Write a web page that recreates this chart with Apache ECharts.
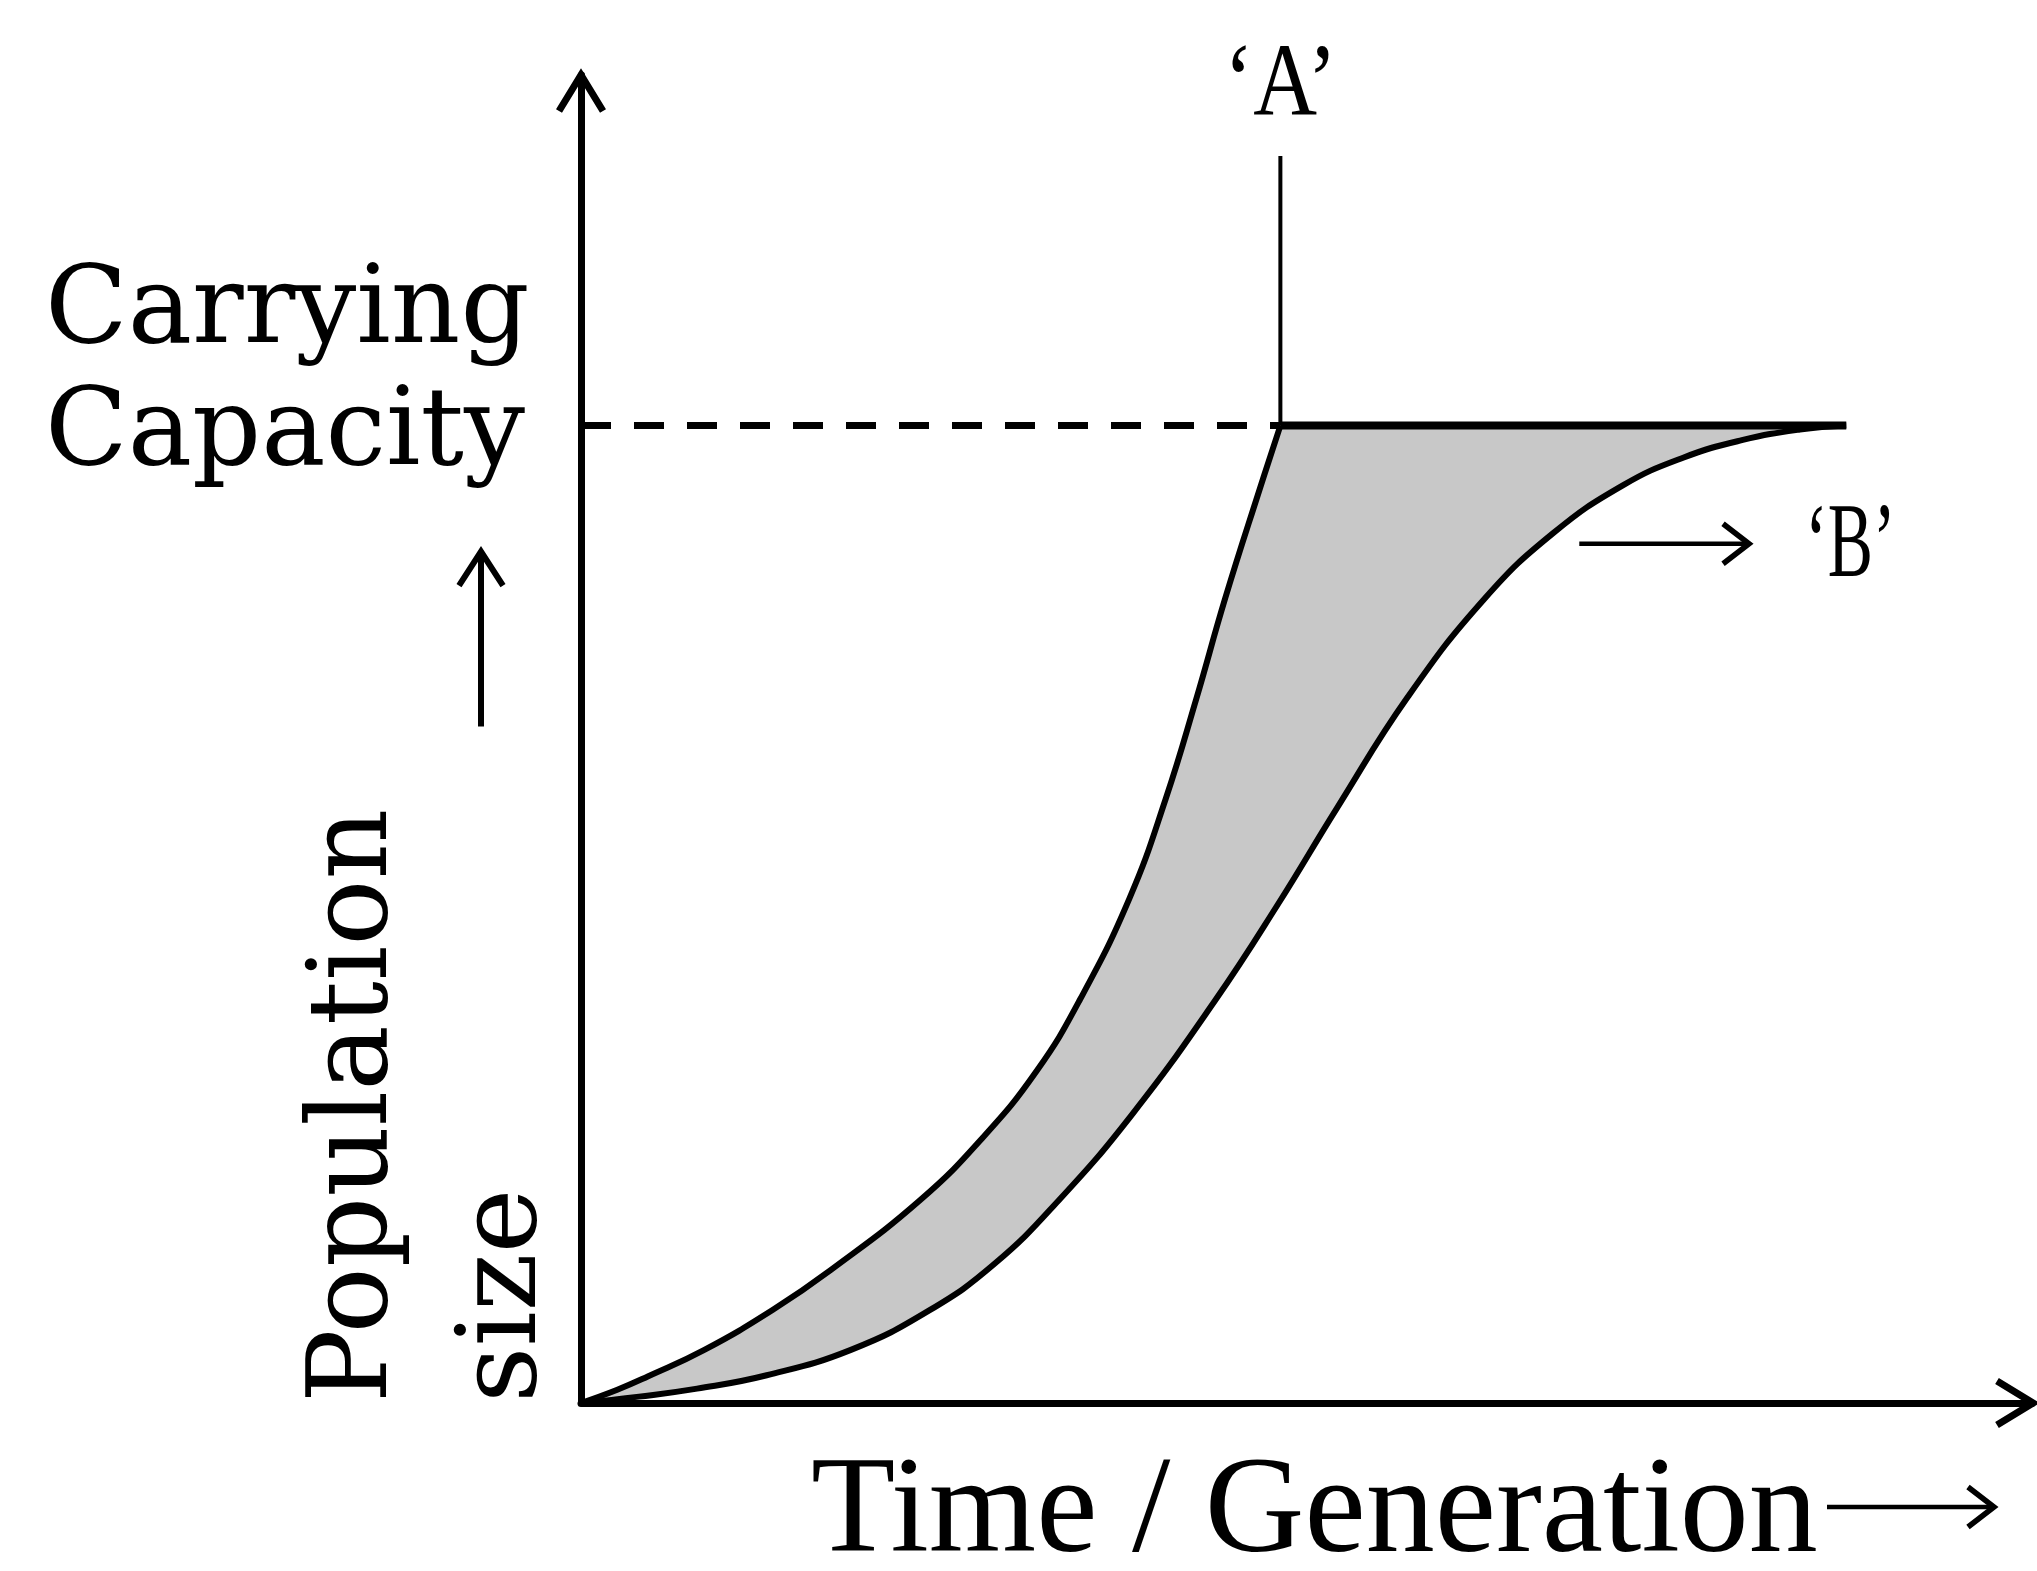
<!DOCTYPE html>
<html>
<head>
<meta charset="utf-8">
<script src="https://cdn.jsdelivr.net/npm/echarts@6/dist/echarts.min.js"></script>
<style>
html,body{margin:0;padding:0;background:#fff;}
#chart{width:2037px;height:1571px;}
</style>
</head>
<body>
<div id="chart"></div>
<script>
// ---- data (time in arbitrary units 0-100, population in arbitrary units 0-100) ----
const carryingCapacity = 73.6;
const timeA = [0, 2.5, 4.6, 8.5, 13.2, 17.2, 23.4, 27.7, 31.4, 34.4, 37.8, 40.3, 42.4, 44.4, 46.8, 48.2];
const popA  = [0, 1.0, 2.0, 4.0, 7.0, 10.0, 15.3, 20.0, 25.0, 30.4, 38.0, 45.5, 53.0, 60.6, 68.9, 73.6];
const timeB = [0, 4, 8, 12.8, 18.6, 24, 28.5, 32.9, 38, 43.7, 48, 52.1, 57, 62.3, 67, 71.8, 76, 80, 84, 87.2];
const popB  = [0, 0.48, 1.08, 2.09, 4.0, 6.97, 10.48, 15.23, 21.76, 30.31, 37.5, 44.8, 53.2, 60.6, 65.5, 69.1, 71.2, 72.5, 73.3, 73.6];
const timeLimitA = 48.2;      // time where curve 'A' reaches carrying capacity
const timeLimitB = 87.2;      // time where curve 'B' reaches carrying capacity
const markerTopA = 93.9;      // top of the 'A' marker line
const arrowBStart = [68.8, 64.7];
const arrowBEnd = [80.5, 64.7];
const labels = {
  yTitle: ['Population', 'size'],
  capacity: ['Carrying', 'Capacity'],
  xTitle: 'Time / Generation',
  a: '\u2018A\u2019',
  b: '\u2018B\u2019'
};

const zip = (xs, ys) => xs.map((x, i) => [x, ys[i]]);
const curveA = zip(timeA, popA);
const curveB = zip(timeB, popB);
const flat = [[timeLimitA, carryingCapacity], [timeLimitB, carryingCapacity]];
// fill helper for the plateau (slightly inset so the band has no anti-aliasing seams)
const flatFill = [[timeLimitA - 0.2, carryingCapacity], [timeLimitB - 0.2, carryingCapacity]];
const dashed = [[0, carryingCapacity], [timeLimitA, carryingCapacity]];
const marker = [[timeLimitA, carryingCapacity], [timeLimitA, markerTopA]];

const chart = echarts.init(document.getElementById('chart'), null, {renderer: 'canvas'});
const GRAY = '#c8c8c8';
const SM = 0.45;
const LW = 6;

const axisCommon = {
  type: 'value', min: 0, max: 100, z: 10,
  axisLine: {show: true, onZero: false, lineStyle: {color: '#000', width: 7}},
  axisTick: {show: false}, axisLabel: {show: false}, splitLine: {show: false}
};

chart.setOption({
  animation: false,
  backgroundColor: '#fff',
  grid: {left: 581, right: 5, top: 75, bottom: 168, containLabel: false},
  xAxis: Object.assign({}, axisCommon),
  yAxis: Object.assign({}, axisCommon),
  series: [
    {type: 'line', data: flatFill, symbol: 'none',
     lineStyle: {width: 0}, areaStyle: {color: GRAY, opacity: 1}, z: 1},
    {type: 'line', data: curveA, smooth: SM, symbol: 'none',
     lineStyle: {width: 0}, areaStyle: {color: GRAY, opacity: 1}, z: 1},
    {type: 'line', data: curveB, smooth: SM, symbol: 'none',
     lineStyle: {width: 0}, areaStyle: {color: '#fff', opacity: 1}, z: 2},
    {type: 'line', data: curveA, smooth: SM, symbol: 'none',
     lineStyle: {color: '#000', width: LW}, z: 5},
    {type: 'line', data: curveB, smooth: SM, symbol: 'none',
     lineStyle: {color: '#000', width: LW}, z: 5},
    {type: 'line', data: flat, symbol: 'none',
     lineStyle: {color: '#000', width: 8}, z: 5},
    {type: 'line', data: dashed, symbol: 'none',
     lineStyle: {color: '#000', width: 7, type: [30, 23]}, z: 5},
    {type: 'line', data: marker, symbol: 'none',
     lineStyle: {color: '#000', width: 4}, z: 5}
  ]
});

const P = (x, y) => chart.convertToPixel({gridIndex: 0}, [x, y]);
const origin = P(0, 0);
const yTop = P(0, 100);
const xEnd = P(100, 0);
const kPix = P(0, carryingCapacity);
const aTop = P(timeLimitA, markerTopA);
const bS = P(arrowBStart[0], arrowBStart[1]);
const bE = P(arrowBEnd[0], arrowBEnd[1]);

function chevron(tx, ty, dir, half, len, lw) {
  let pts;
  if (dir === 'up') pts = [[tx - half, ty + len], [tx, ty], [tx + half, ty + len]];
  else pts = [[tx - len, ty - half], [tx, ty], [tx - len, ty + half]];
  return {type: 'polyline', shape: {points: pts}, z: 100,
          style: {stroke: '#000', lineWidth: lw, fill: null, lineJoin: 'miter', lineCap: 'butt'}};
}
function seg(x1, y1, x2, y2, lw) {
  return {type: 'line', shape: {x1, y1, x2, y2}, z: 100, style: {stroke: '#000', lineWidth: lw}};
}
function txt(x, y, text, font, size, opts) {
  return Object.assign({type: 'text', x, y, z: 100,
    style: Object.assign({text, fill: '#000', font: size + 'px "' + font + '"',
      textAlign: 'left', textVerticalAlign: 'middle'}, (opts && opts.style) || {})},
    opts && opts.el || {});
}

const SERIF1 = 'DejaVu Serif';
const SERIF2 = 'Liberation Serif';

const g = [
  // axis arrow heads
  chevron(yTop[0], yTop[1], 'up', 22, 36, 7),
  chevron(xEnd[0] + 1, xEnd[1], 'right', 22, 36, 7),
  // carrying capacity text
  txt(origin[0] - 536, kPix[1] - 112, labels.capacity[0], SERIF1, 108),
  txt(origin[0] - 536, kPix[1] + 10, labels.capacity[1], SERIF1, 108),
  // up arrow beside population size
  seg(origin[0] - 100, kPix[1] + 301, origin[0] - 100, kPix[1] + 128, 6),
  chevron(origin[0] - 100, kPix[1] + 126, 'up', 22, 34, 6),
  // population size (rotated)
  txt(origin[0] - 224, origin[1], labels.yTitle[0], SERIF1, 110, {el: {rotation: Math.PI / 2}}),
  txt(origin[0] - 75, origin[1], labels.yTitle[1], SERIF1, 110, {el: {rotation: Math.PI / 2}}),
  // 'A'
  txt(aTop[0], aTop[1] - 68, labels.a, SERIF2, 104, {style: {textAlign: 'center'}, el: {scaleX: 0.85}}),
  // arrow to 'B'
  seg(bS[0], bS[1], bE[0] - 3, bE[1], 4.5),
  chevron(bE[0], bE[1], 'right', 20, 26, 5.5),
  txt(bE[0] + 56, bE[1] + 4, labels.b, SERIF2, 106, {el: {scaleX: 0.64}}),
  // x title + arrow
  txt(origin[0] + 230, origin[1] + 112, labels.xTitle, SERIF2, 138),
  seg(origin[0] + 1246, origin[1] + 104, origin[0] + 1410, origin[1] + 104, 4.5),
  chevron(origin[0] + 1413, origin[1] + 104, 'right', 20, 26, 5.5)
];

chart.setOption({graphic: g});
</script>
</body>
</html>
